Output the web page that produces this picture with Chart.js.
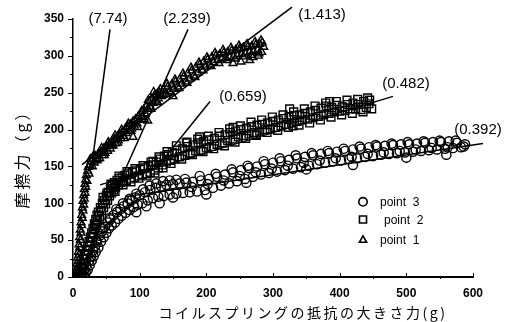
<!DOCTYPE html>
<html>
<head>
<meta charset="utf-8">
<script src="https://cdn.jsdelivr.net/npm/chart.js@4.4.1/dist/chart.umd.min.js"></script>
<style>
  html, body { margin: 0; padding: 0; background: #fff; }
  #wrap { width: 517px; height: 322px; position: relative; }
</style>
</head>
<body>
<div id="wrap"><canvas id="c"></canvas></div>
<script>
// point 1 (triangles), [x, y]
const p1Points = [
  [3,0],[4,4],[5,10],[6,6],[6,18],[7,26],[7,14],[8,34],[8,22],[9,44],[9,30],[10,54],[10,40],[11,64],[11,50],
  [12,74],[12,60],[13,84],[13,70],[14,94],[14,80],[15,103],[15,90],[16,111],[16,98],[17,119],[17,106],[18,126],
  [18,114],[19,132],[19,122],[20,138],[21,130],[22,144],[23,149],[24,140],[25,152],[27,157],[29,150],[30,160],
  [32,155],[34,164],[36,158],[38,167],[40,161],[42,170],[44,165],[46,174],[48,168],[50,177],[52,171],[54,180],
  [56,174],[58,183],[60,178],[62,187],[64,181],[66,190],[68,185],[70,193],[72,188],[74,197],[76,191],[78,200],
  [80,195],[82,204],[84,198],[86,207],[88,201],[90,211],[92,205],[94,214],[96,208],[98,218],[100,213],[102,222],
  [104,217],[106,227],[108,222],[110,232],[112,228],[114,238],[116,231],[118,242],[120,236],[122,246],[124,239],
  [126,248],[128,242],[130,250],[133,245],[136,254],[139,248],[142,258],[145,252],[148,261],[151,255],[154,265],
  [157,258],[160,268],[163,262],[166,272],[169,265],[172,276],[175,269],[178,280],[181,273],[184,284],[187,277],
  [190,288],[193,281],[196,292],[199,285],[202,295],[205,288],[208,298],[211,291],[214,300],[217,294],[220,302],
  [223,296],[226,304],[229,297],[232,305],[235,298],[238,307],[241,299],[244,308],[247,300],[250,310],[253,302],
  [256,311],[259,303],[262,312],[265,305],[268,313],[271,306],[274,315],[277,308],[280,316],[283,305],[286,312],
  [284,318],[90,190],[112,212],[150,245],[240,290],[252,292],[265,294],[278,300],[270,298],
  [26,160],[31,165],[37,160],[43,175],[47,165],[53,183],[57,178],[63,192],[67,182],[73,200],[77,188],[83,208],
  [87,198],[93,212],[97,203],[103,225],[107,214],[113,240],[117,228],[121,251],[127,237],[131,255],[135,247],
  [141,262],[147,250],[153,268],[159,256],[165,276],[171,263],[177,284],[183,271],[189,291],[195,280],[201,298],
  [207,286],[213,304],[219,290],[225,308],[231,294],[237,311],[243,296],[249,314],[255,299],[261,316],[267,301],
  [273,319],[279,303],[282,321]
];
// point 2 (squares)
const p2Points = [
  [7,0],[9,4],[10,0],[11,8],[12,14],[13,6],[14,18],[15,12],[16,24],[17,18],[18,30],[19,24],[20,36],[21,30],
  [22,42],[23,36],[24,48],[25,42],[26,54],[27,48],[28,60],[29,54],[30,66],[31,58],[32,72],[33,64],[34,78],
  [35,70],[36,84],[37,76],[38,88],[40,82],[41,94],[43,90],[44,100],[46,94],[47,104],[49,99],[50,110],[52,104],
  [53,115],[55,110],[56,120],[58,114],[59,124],[61,118],[62,128],[64,122],[66,131],[68,125],[70,134],[72,128],
  [74,136],[76,130],[78,138],[80,131],[83,140],[86,133],[89,142],[92,135],[95,144],[98,137],[101,146],[104,139],
  [107,148],[110,140],[113,150],[116,142],[119,152],[122,145],[125,156],[128,148],[131,160],[134,152],[137,164],
  [140,156],[143,166],[146,158],[149,169],[152,160],[156,172],[160,163],[164,174],[168,165],[172,177],[176,168],
  [180,179],[184,171],[188,182],[192,172],[196,184],[200,175],[204,186],[208,177],[212,188],[216,180],[220,191],
  [224,182],[228,193],[232,185],[236,196],[240,187],[244,198],[248,190],[252,200],[256,192],[260,202],[264,194],
  [268,204],[272,196],[276,206],[280,198],[284,207],[288,200],[292,209],[296,201],[300,211],[304,203],[308,213],
  [312,205],[316,215],[320,207],[324,217],[328,209],[332,219],[336,211],[340,220],[344,213],[348,222],[352,214],
  [356,224],[360,216],[364,226],[368,218],[372,229],[376,220],[380,232],[384,222],[388,230],[392,224],[396,233],
  [400,225],[404,231],[408,226],[412,234],[416,228],[420,236],[424,228],[428,234],[432,227],[436,238],[440,230],
  [444,235],[448,228],[445,240],[385,238],[325,228],[240,203],[190,190],[170,182],[275,192],[330,205],[120,157],
  [45,108],[51,114],[57,126],[63,116],[69,137],[75,125],[81,143],[87,129],[93,147],[99,134],[105,151],[111,137],
  [117,156],[123,141],[129,163],[135,148],[141,170],[147,154],[155,178],[163,160],[171,183],[179,166],[187,187],
  [195,170],[203,191],[211,174],[219,196],[227,178],[235,201],[243,183],[251,205],[259,188],[267,210],[275,193],
  [283,213],[291,196],[299,217],[307,199],[315,220],[323,203],[331,224],[339,206],[347,228],[355,209],[363,232],
  [371,213],[379,236],[387,217],[395,238],[403,220],[411,240],[419,222],[427,241],[435,224],[442,243]
];
// point 3 (circles)
const p3Points = [
  [12,0],[14,4],[16,2],[17,10],[19,6],[20,16],[22,10],[24,22],[25,16],[27,28],[28,22],[30,36],[31,28],[33,42],
  [34,34],[36,48],[38,40],[40,56],[42,48],[44,62],[46,54],[48,68],[50,60],[52,74],[54,66],[56,78],[58,70],
  [61,84],[63,74],[66,88],[68,79],[71,92],[73,83],[76,96],[79,87],[82,100],[85,91],[88,104],[91,95],[94,108],
  [97,98],[100,111],[104,100],[108,115],[112,104],[116,118],[120,107],[124,121],[128,109],[132,123],[136,110],
  [140,125],[145,112],[150,126],[155,113],[160,127],[165,114],[170,128],[175,115],[180,129],[186,116],[192,131],
  [198,118],[204,133],[210,121],[216,136],[222,124],[228,139],[234,127],[240,142],[246,130],[252,145],[258,133],
  [264,148],[270,136],[276,150],[282,139],[288,153],[294,141],[300,155],[306,143],[312,157],[318,145],[324,159],
  [330,147],[336,161],[342,149],[348,163],[354,151],[360,165],[366,153],[372,167],[378,155],[384,168],[390,157],
  [396,170],[402,158],[408,171],[414,160],[420,173],[426,161],[432,174],[438,163],[444,176],[450,164],[456,177],
  [462,166],[468,178],[474,167],[480,179],[486,168],[492,180],[498,169],[504,180],[510,170],[516,181],[522,171],
  [528,182],[534,172],[540,183],[546,173],[552,183],[558,174],[564,184],[570,175],[576,182],[582,176],[588,180],
  [130,100],[150,108],[200,112],[260,128],[350,146],[420,152],[500,162],[560,166],[110,96],[95,88],
  [35,50],[45,66],[55,80],[65,92],[75,100],[85,106],[95,113],[105,119],[115,124],[125,127],[135,130],[145,131],
  [155,132],[168,133],[178,122],[190,137],[202,126],[214,140],[226,131],[238,146],[250,137],[262,151],[274,142],
  [286,157],[298,147],[310,161],[322,151],[334,165],[346,155],[358,168],[370,158],[382,171],[394,161],[406,174],
  [418,163],[430,177],[442,167],[454,179],[466,169],[478,181],[490,171],[502,183],[514,173],[526,184],[538,175],
  [550,185],[562,176],[574,185],[586,177]
];

// fitted / leader lines, [start, end]
const fit774 = [[28,150],[55.5,336]];
const fit2239 = [[73.5,136],[172.5,336]];
const lead0659 = [[135,159],[205.5,238]];
const fit1413 = [[13.5,152.5],[328.5,366]];
const fit0482 = [[40.5,125],[480,245]];
const fit0392 = [[78,109],[615,181]];

const slopeLabels = ['(7.74)', '(2.239)', '(1.413)', '(0.659)', '(0.482)', '(0.392)'];
const slopeLabelX = [52.5, 171, 373.5, 255, 499.5, 607.5];
const slopeLabelY = [350, 350, 355.5, 245, 261.5, 200];

const legendNames = ['point 3', 'point 2', 'point 1'];
const legendStyles = ['circle', 'rect', 'triangle'];
const legendY = [102, 78, 50];

const xTitle = 'コイルスプリングの抵抗の大きさ力(g)';
const yTitle = '摩擦力（g）';

const toXY = (arr) => arr.map(([x, y]) => ({ x, y }));
const lineSet = (arr) => ({
  data: toXY(arr), showLine: true, pointRadius: 0, borderColor: '#000', borderWidth: 1.5, clip: false,
});
const markSet = (arr, style, r) => ({
  data: toXY(arr), showLine: false, pointStyle: style, pointRadius: r, borderColor: '#000',
  borderWidth: 1.4, backgroundColor: 'rgba(255,255,255,0)',
});

const extras = {
  id: 'extras',
  afterDraw(chart) {
    const { ctx, scales: { x, y } } = chart;
    ctx.save();
    ctx.strokeStyle = '#000';
    ctx.fillStyle = '#000';
    // tick marks
    ctx.lineWidth = 1;
    for (let v = 0; v <= 350; v += 25) {
      const py = Math.round(y.getPixelForValue(v)) + 0.5;
      const len = v % 50 === 0 ? 5 : 3;
      ctx.beginPath(); ctx.moveTo(x.left - len, py); ctx.lineTo(x.left, py); ctx.stroke();
    }
    for (let v = 50; v <= 600; v += 50) {
      const px = Math.round(x.getPixelForValue(v)) + 0.5;
      ctx.beginPath();
      if (v % 100 === 0) { ctx.moveTo(px, y.bottom); ctx.lineTo(px, y.bottom - 4); }
      else { ctx.moveTo(px, y.bottom); ctx.lineTo(px, y.bottom + 2); }
      ctx.stroke();
    }
    // slope labels
    ctx.font = '15px "Liberation Sans", Arial, sans-serif';
    ctx.textAlign = 'center';
    ctx.textBaseline = 'middle';
    slopeLabels.forEach((t, i) => ctx.fillText(t, x.getPixelForValue(slopeLabelX[i]), y.getPixelForValue(slopeLabelY[i])));
    // legend
    ctx.font = '12px "Liberation Sans", Arial, sans-serif';
    ctx.textAlign = 'left';
    legendNames.forEach((name, i) => {
      const px = x.getPixelForValue(435), py = y.getPixelForValue(legendY[i]);
      ctx.fillStyle = '#fff'; ctx.lineWidth = 1.6;
      Chart.helpers.drawPoint(ctx, { pointStyle: legendStyles[i], radius: i === 1 ? 5 : 4.2, borderWidth: 1.6 }, px, py);
      ctx.fillStyle = '#000';
      ctx.fillText(name.replace(' ', '  '), px + (i === 1 ? 21 : 17), py + 1);
    });
    // axis titles
    ctx.font = '14px "Noto Sans CJK JP", sans-serif';
    ctx.letterSpacing = '2.5px';
    ctx.textAlign = 'center';
    ctx.fillText(xTitle, 303, 313);
    ctx.translate(22, 155);
    ctx.rotate(-Math.PI / 2);
    ctx.font = '16px "Noto Sans CJK JP", sans-serif';
    ctx.letterSpacing = '3px';
    ctx.fillText(yTitle, 0, 0);
    ctx.restore();
  }
};

const tickFont = { family: '"Liberation Sans", Arial, sans-serif', size: 12, weight: 'bold' };

new Chart(document.getElementById('c'), {
  type: 'scatter',
  data: {
    datasets: [
      lineSet(fit774), lineSet(fit2239), lineSet(lead0659), lineSet(fit1413), lineSet(fit0482), lineSet(fit0392),
      markSet(p1Points, 'triangle', 4.5),
      markSet(p2Points, 'rect', 5.5),
      markSet(p3Points, 'circle', 4.6),
    ],
  },
  options: {
    responsive: true, maintainAspectRatio: false, animation: false,
    layout: { padding: { top: 19, right: 44, left: 0, bottom: 0 } },
    plugins: { legend: { display: false }, tooltip: { enabled: false } },
    scales: {
      x: {
        min: 0, max: 600,
        afterFit: (s) => { s.height = 45; },
        grid: { display: false, drawTicks: false },
        border: { display: true, color: '#000', width: 2 },
        ticks: { stepSize: 100, color: '#000', font: tickFont, padding: 9, maxRotation: 0 },
      },
      y: {
        min: 0, max: 350,
        afterFit: (s) => { s.width = 73; },
        grid: { display: false, drawTicks: false },
        border: { display: true, color: '#000', width: 1.5 },
        ticks: { stepSize: 50, color: '#000', font: tickFont, padding: 9 },
      },
    },
  },
  plugins: [extras],
});
</script>
</body>
</html>
